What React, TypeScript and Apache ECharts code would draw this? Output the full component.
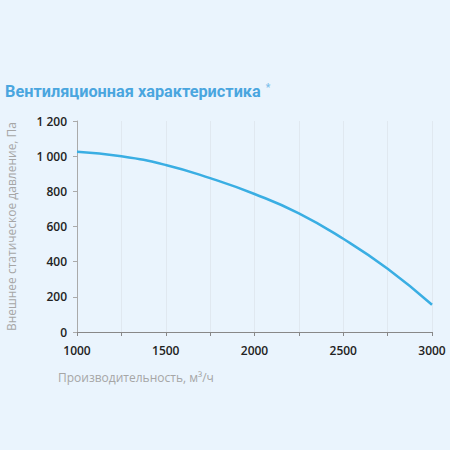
import React, { useEffect, useRef } from 'react';
import * as echarts from 'echarts';

const flowRates = [1000, 1250, 1500, 1750, 2000, 2250, 2500, 2750, 3000];
const pressures = [1025, 1000, 950, 875, 785, 675, 530, 360, 155];

const chartTitle = 'Вентиляционная характеристика';
const xAxisTitle = 'Производительность, м³/ч';
const yAxisTitle = 'Внешнее статическое давление, Па';

const formatThousands = (v: number) =>
  String(v).replace(/\B(?=(\d{3})+(?!\d))/g, ' ');

const App: React.FC = () => {
  const chartRef = useRef<HTMLDivElement>(null);

  useEffect(() => {
    document.body.style.margin = '0';
    if (!chartRef.current) return;
    const chart = echarts.init(chartRef.current, undefined, { renderer: 'svg' });

    const option = {
      animation: false,
      backgroundColor: '#eaf4fd',
      title: {
        left: 5,
        top: 82,
        padding: 0,
        text: `{t|${chartTitle}} {s|*}`,
        textStyle: {
          rich: {
            t: { fontFamily: 'Roboto', fontWeight: 'bold', fontSize: 16.3, color: '#4aa6df' },
            s: { fontFamily: 'Roboto', fontSize: 10, color: '#7cc0ea', verticalAlign: 'top', padding: [0, 0, 8, 0] }
          }
        }
      },
      graphic: [
        {
          type: 'text',
          left: 58,
          top: 371,
          style: {
            text: xAxisTitle,
            fill: '#a6a6a6',
            font: '12px "Open Sans"'
          }
        }
      ],
      grid: { left: 77, right: 18, top: 121, bottom: 118, outerBoundsMode: 'none' },
      xAxis: {
        type: 'value',
        min: 1000,
        max: 3000,
        interval: 250,
        axisLine: { show: true, lineStyle: { color: '#888', width: 1 } },
        axisTick: { show: true, length: 4, inside: false, lineStyle: { color: '#888' } },
        splitLine: { show: true, lineStyle: { color: '#e0e8f0', width: 1 } },
        axisLabel: {
          margin: 12,
          fontFamily: 'Open Sans',
          fontSize: 12,
          fontWeight: 600,
          color: '#222',
          formatter: (v: number) => (v % 500 === 0 ? String(v) : '')
        }
      },
      yAxis: {
        type: 'value',
        min: 0,
        max: 1200,
        interval: 200,
        name: yAxisTitle,
        nameLocation: 'middle',
        nameGap: 60,
        nameTextStyle: { fontFamily: 'Open Sans', fontSize: 12, color: '#a6a6a6' },
        axisLine: { show: true, lineStyle: { color: '#aaa', width: 1 } },
        axisTick: { show: true, length: 4, lineStyle: { color: '#aaa' } },
        splitLine: { show: false },
        axisLabel: {
          margin: 10,
          fontFamily: 'Open Sans',
          fontSize: 12,
          fontWeight: 600,
          color: '#222',
          formatter: (v: number) => formatThousands(v)
        }
      },
      series: [
        {
          type: 'line',
          smooth: true,
          symbol: 'none',
          data: flowRates.map((x, i) => [x, pressures[i]]),
          lineStyle: { color: '#3aaee3', width: 2.5 }
        }
      ]
    };

    chart.setOption(option);
    return () => {
      chart.dispose();
    };
  }, []);

  return <div ref={chartRef} style={{ width: '450px', height: '450px' }}></div>;
};

export default App;
